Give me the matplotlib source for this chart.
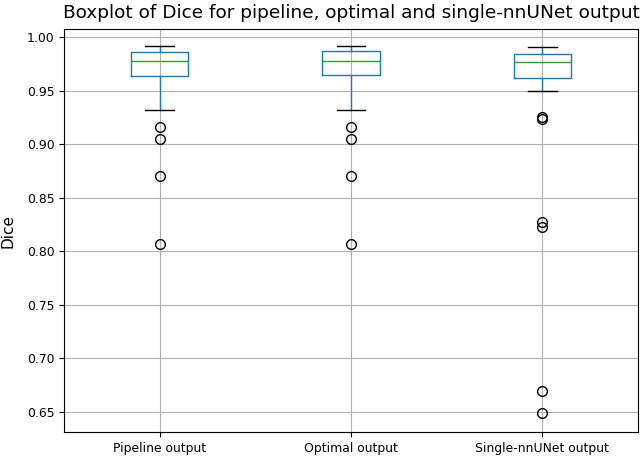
"""Boxplot of Dice scores for pipeline, optimal and single-nnUNet output."""

import matplotlib

matplotlib.use("Agg")
import matplotlib.pyplot as plt

labels = ["Pipeline output", "Optimal output", "Single-nnUNet output"]

# box statistics
whisker_high = [0.9919, 0.9920, 0.9910]
q3 = [0.9863, 0.9866, 0.9844]
medians = [0.9773, 0.9780, 0.9764]
q1 = [0.9633, 0.9645, 0.9613]
whisker_low = [0.9318, 0.9320, 0.9500]
outliers = [
    [0.9163, 0.9048, 0.8705, 0.8067],
    [0.9163, 0.9048, 0.8705, 0.8067],
    [0.9250, 0.9236, 0.8270, 0.8229, 0.6697, 0.6486],
]

stats = [
    {
        "label": label,
        "whishi": hi,
        "q3": upper,
        "med": med,
        "q1": lower,
        "whislo": lo,
        "fliers": flier,
    }
    for label, hi, upper, med, lower, lo, flier in zip(
        labels, whisker_high, q3, medians, q1, whisker_low, outliers
    )
]

figure = plt.figure(figsize=(6.44, 4.57), dpi=100)
axis = figure.add_axes([64 / 644, 1 - 432 / 457, 574 / 644, 403 / 457])
axis.bxp(
    stats,
    widths=0.3,
    boxprops={"color": "C0"},
    whiskerprops={"color": "C0"},
    medianprops={"color": "C2"},
    capprops={"color": "k"},
    flierprops={"markeredgecolor": "k", "markersize": 7},
)
axis.set_ylim(0.6313, 1.0075)
axis.grid(True)
axis.tick_params(axis="both", labelsize=8.9)
axis.set_ylabel("Dice", fontsize=11)
axis.yaxis.set_label_coords(-0.084, 0.5)
axis.set_title(
    "Boxplot of Dice for pipeline, optimal and single-nnUNet output",
    fontsize=13.3,
    pad=8,
)
figure.savefig("out.png", dpi=100)
plt.close(figure)
